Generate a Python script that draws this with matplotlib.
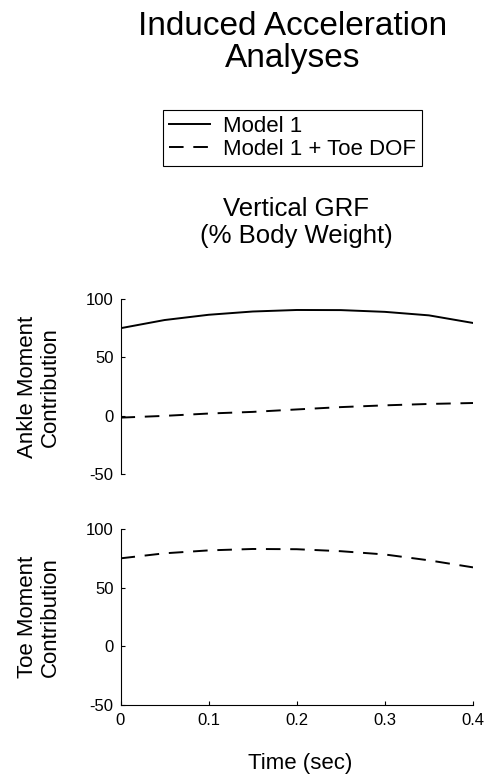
import matplotlib
matplotlib.use('Agg')
import matplotlib.pyplot as plt

plt.rcParams['font.family'] = ['Liberation Sans', 'DejaVu Sans']

# tiempo (s)
tiempo = [0.0, 0.05, 0.1, 0.15, 0.2, 0.25, 0.3, 0.35, 0.4]

# contribucion del momento de tobillo
tobillo_modelo1 = [75.0, 82.0, 86.5, 89.3, 90.6, 90.5, 89.0, 86.0, 79.5]
tobillo_modelo1_dedo = [-1.5, 0.0, 2.0, 3.4, 5.5, 7.5, 9.0, 10.2, 11.0]

# contribucion del momento del dedo (solo modelo con dedo)
dedo_modelo1_dedo = [75.2, 79.5, 82.0, 83.2, 83.0, 81.3, 78.5, 73.5, 67.5]

y_ticks = [-50, 0, 50, 100]
x_ticks = [0, 0.1, 0.2, 0.3, 0.4]
x_tick_labels = ['0', '0.1', '0.2', '0.3', '0.4']

W, H = 484, 776
fig = plt.figure(figsize=(W / 100, H / 100), dpi=100)

guiones = (0, (7.5, 5))
lw = 1.4


def ejes(px_izq, px_arriba, px_der, px_abajo):
    return fig.add_axes([px_izq / W, 1 - px_abajo / H,
                         (px_der - px_izq) / W, (px_abajo - px_arriba) / H])


ax1 = ejes(120.5, 299, 473, 474.3)
ax2 = ejes(120.5, 529.3, 473, 705)

l1, = ax1.plot(tiempo, tobillo_modelo1, color='black', lw=lw)
l2, = ax1.plot(tiempo, tobillo_modelo1_dedo, color='black', lw=lw, linestyle=guiones)
ax2.plot(tiempo, dedo_modelo1_dedo, color='black', lw=lw, linestyle=guiones)

for ax in (ax1, ax2):
    ax.set_xlim(0, 0.4)
    ax.set_ylim(-50, 100)
    ax.set_yticks(y_ticks)
    ax.set_yticklabels([str(v) for v in y_ticks])
    ax.spines['top'].set_visible(False)
    ax.spines['right'].set_visible(False)
    for s in ax.spines.values():
        s.set_linewidth(0.8)
    ax.tick_params(direction='in', length=3, width=0.8, labelsize=12, pad=5)

# eje superior sin eje x
ax1.spines['bottom'].set_visible(False)
ax1.set_xticks([])

ax2.set_xticks(x_ticks)
ax2.set_xticklabels(x_tick_labels)
ax2.tick_params(axis='x', pad=6)

# textos
fig.text(293 / W, 1 - 11 / H, 'Induced Acceleration\nAnalyses', ha='center', va='top',
         fontsize=24, linespacing=1.05)
fig.text(296 / W, 1 - 197 / H, 'Vertical GRF\n(% Body Weight)', ha='center', va='top',
         fontsize=18.5, linespacing=1.15)
fig.text(300 / W, 1 - 753 / H, 'Time (sec)', ha='center', va='top', fontsize=16)

fig.text(39 / W, 1 - 386.6 / H, 'Ankle Moment\nContribution', ha='center', va='center',
         rotation=90, fontsize=16, linespacing=1.12)
fig.text(39 / W, 1 - 617 / H, 'Toe Moment\nContribution', ha='center', va='center',
         rotation=90, fontsize=16, linespacing=1.12)

leg = fig.legend([l1, l2], ['Model 1', 'Model 1 + Toe DOF'], loc='center',
                 bbox_to_anchor=(292.5 / W, 1 - 138 / H), fontsize=16,
                 fancybox=False, edgecolor='black', framealpha=1,
                 handlelength=1.85, handletextpad=0.6, borderpad=0.25,
                 labelspacing=0.1, borderaxespad=0)
leg.get_frame().set_linewidth(0.8)

fig.savefig('out.png', dpi=100)
